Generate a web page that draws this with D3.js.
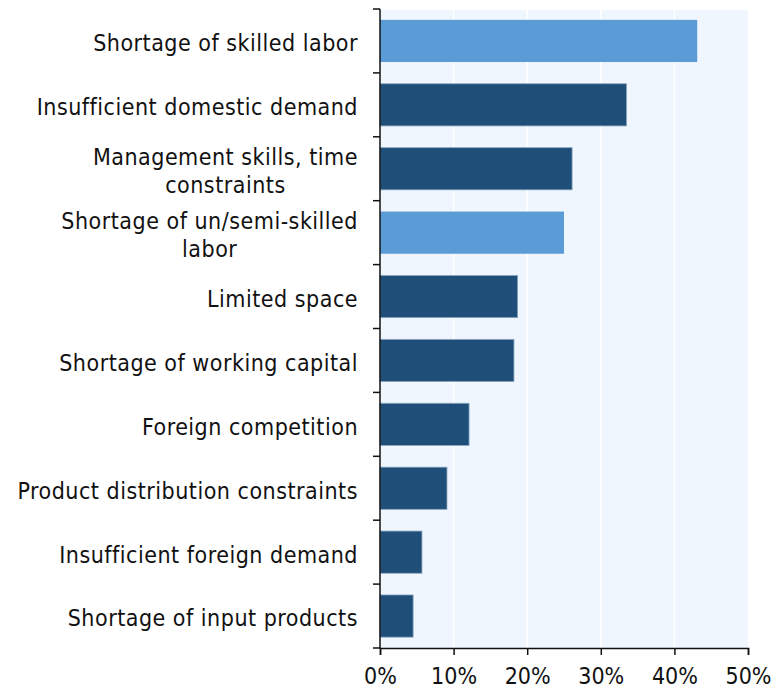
<!DOCTYPE html>
<html>
<head>
<meta charset="utf-8">
<script src="https://cdn.jsdelivr.net/npm/d3@7"></script>
<style>
  body { margin: 0; background: #fff; }
  svg text { font-family: "DejaVu Sans Condensed", "DejaVu Sans", Verdana, sans-serif; fill: #111; letter-spacing: 0.5px; }
  svg .tick text { letter-spacing: 0; }
</style>
</head>
<body>
<svg id="chart" width="774" height="693"></svg>
<script>
// data
var categories = [
  "Shortage of skilled labor",
  "Insufficient domestic demand",
  "Management skills, time|constraints",
  "Shortage of un/semi-skilled|labor",
  "Limited space",
  "Shortage of working capital",
  "Foreign competition",
  "Product distribution constraints",
  "Insufficient foreign demand",
  "Shortage of input products"
];
var values = [43.1, 33.5, 26.1, 25.0, 18.7, 18.2, 12.1, 9.1, 5.7, 4.5];
var highlight = [true, false, false, true, false, false, false, false, false, false];
var xTicks = [0, 10, 20, 30, 40, 50];

var margin = {top: 9, right: 26, bottom: 45, left: 380},
    width = 774 - margin.left - margin.right,
    height = 693 - margin.top - margin.bottom;

var svg = d3.select("#chart")
  .append("g")
  .attr("transform", "translate(" + margin.left + "," + margin.top + ")");

var xScale = d3.scaleLinear().domain([0, 50]).range([0, width]);
var yScale = d3.scaleBand().domain(d3.range(categories.length)).range([0, height]).paddingInner(0.34).paddingOuter(0.17);

// plot background
svg.append("rect")
  .attr("x", 0).attr("y", 1)
  .attr("width", width).attr("height", height - 1)
  .attr("fill", "#eff6fe");

// gridlines
svg.append("g")
  .selectAll("line")
  .data(xTicks.slice(1, -1))
  .enter().append("line")
  .attr("x1", function(d){ return xScale(d); })
  .attr("x2", function(d){ return xScale(d); })
  .attr("y1", 1).attr("y2", height)
  .attr("stroke", "#ffffff")
  .attr("stroke-width", 1.5);

// bars
svg.selectAll(".bar")
  .data(values)
  .enter().append("rect")
  .attr("class", "bar")
  .attr("x", 0)
  .attr("y", function(d, i){ return yScale(i); })
  .attr("width", function(d){ return xScale(d); })
  .attr("height", yScale.bandwidth())
  .attr("fill", function(d, i){ return highlight[i] ? "#5b9bd6" : "#1f4e78"; })
  .attr("stroke", function(d, i){ return highlight[i] ? "none" : "#8aa6c1"; })
  .attr("stroke-width", 0.8);

// x axis
svg.append("g")
  .attr("transform", "translate(0," + height + ")")
  .call(d3.axisBottom(xScale)
    .tickValues(xTicks)
    .tickSize(7)
    .tickPadding(13)
    .tickFormat(function(d){ return d + "%"; }))
  .call(function(g){
    g.select(".domain").attr("stroke", "#111").attr("stroke-width", 1.5);
    g.selectAll(".tick line").attr("stroke", "#111").attr("stroke-width", 1.5);
    g.selectAll("text").style("font-size", "23px").attr("fill", "#111");
  });

// y axis line + ticks at band boundaries
var bounds = d3.range(categories.length + 1).map(function(i){ return i * height / categories.length; });
svg.append("line")
  .attr("x1", 0).attr("x2", 0).attr("y1", 0).attr("y2", height)
  .attr("stroke", "#111").attr("stroke-width", 1.5);
svg.append("g")
  .selectAll("line")
  .data(bounds)
  .enter().append("line")
  .attr("x1", -7).attr("x2", 0)
  .attr("y1", function(d){ return d; }).attr("y2", function(d){ return d; })
  .attr("stroke", "#111").attr("stroke-width", 1.5);

// category labels
var labels = svg.append("g").attr("class", "labels");
categories.forEach(function(c, i){
  var lines = c.split("|");
  var cy = yScale(i) + yScale.bandwidth() / 2;
  var lh = 28;
  var g = labels.append("g");
  var texts = lines.map(function(l, j){
    return g.append("text")
      .attr("y", cy + (j - (lines.length - 1) / 2) * lh)
      .attr("dy", "0.45em")
      .style("font-size", "23px")
      .text(l);
  });
  var maxW = d3.max(texts, function(t){ return t.node().getComputedTextLength(); });
  texts.forEach(function(t){
    t.attr("x", -22 - maxW / 2).attr("text-anchor", "middle");
  });
});
</script>
</body>
</html>
